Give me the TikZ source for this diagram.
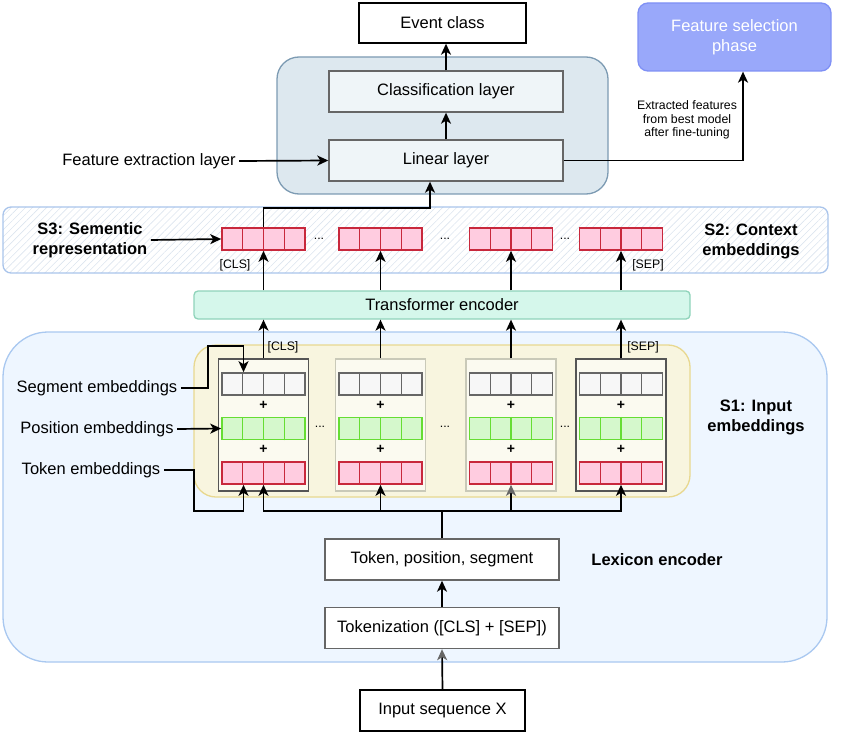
\documentclass[tikz,border=0pt]{standalone}
\usepackage{fontspec}
\setmainfont{Liberation Sans}
\usetikzlibrary{positioning, arrows.meta, patterns.meta}

\definecolor{s1fill}{HTML}{EEF6FF}
\definecolor{s1draw}{HTML}{A9C8F0}
\definecolor{yelfill}{HTML}{F8F5DF}
\definecolor{yeldraw}{HTML}{E8D890}
\definecolor{banddraw}{HTML}{A9C4EB}
\definecolor{hatch}{HTML}{DCE4EE}
\definecolor{outfill}{HTML}{DDE8EF}
\definecolor{outdraw}{HTML}{7D9BB3}
\definecolor{layerfill}{HTML}{EFF5F8}
\definecolor{boxgray}{HTML}{666666}
\definecolor{selfill}{HTML}{99A8FA}
\definecolor{seldraw}{HTML}{7F90F5}
\definecolor{transfill}{HTML}{D5F7EB}
\definecolor{transdraw}{HTML}{8FD3BA}
\definecolor{pinkfill}{HTML}{FFCCE0}
\definecolor{pinkdraw}{HTML}{C8283C}
\definecolor{greenfill}{HTML}{D5F8CC}
\definecolor{greendraw}{HTML}{66DD33}
\definecolor{segfill}{HTML}{F7F7F7}
\definecolor{segdraw}{HTML}{666666}
\definecolor{stackfill}{HTML}{FBFAF0}
\definecolor{stackdark}{HTML}{555555}
\definecolor{stacklight}{HTML}{C9C9B8}
\definecolor{arrgray}{HTML}{666666}

\tikzset{
  txt/.style={font=\fontsize{16.5}{20}\selectfont},
  small/.style={font=\fontsize{12.3}{13.5}\selectfont},
  headlbl/.style={font=\fontsize{16.5}{20}\selectfont\bfseries, align=center},
  plus/.style={font=\fontsize{14}{14}\selectfont\bfseries, inner sep=0pt},
  box/.style={draw=black, fill=white, line width=1.4pt, inner sep=0pt, txt},
  graybox/.style={box, draw=boxgray, minimum width=234pt, minimum height=41pt},
  layer/.style={box, draw=boxgray, fill=layerfill, minimum width=234pt, minimum height=41pt},
  region/.style={inner sep=0pt, line width=1.3pt},
  vec/.style={minimum width=83pt, minimum height=22pt, inner sep=0pt, line width=1.6pt},
  pinkvec/.style={fill=pinkfill, draw=pinkdraw},
  greenvec/.style={fill=greenfill, draw=greendraw},
  segvec/.style={fill=segfill, draw=segdraw},
  stackbox/.style={minimum width=90pt, minimum height=132pt, fill=stackfill, line width=1.5pt, inner sep=0pt},
  conn/.style={line width=1.7pt},
  arr/.style={conn, -{Stealth[length=11pt, width=10pt, inset=3pt]}},
  garr/.style={conn, -{Stealth[length=11pt, width=10pt, inset=3pt, color=arrgray]}},
}

% one embedding vector of four cells
\newcommand{\embvec}[4]{%
  \node[vec, #4] (#1) at (#2,#3) {};
  \foreach \k in {-1,0,1}
    \draw[#4, line width=1.4pt] ([xshift=\k*20.75pt]#1.south) -- ([xshift=\k*20.75pt]#1.north);
}

\begin{document}
\begin{tikzpicture}[x=1pt, y=-1pt]
\useasboundingbox (0,0) rectangle (850,735);

% regions
\node[region, fill=s1fill, draw=s1draw, rounded corners=45pt, minimum width=824pt, minimum height=330pt] (s1) at (415,497) {};
\node[region, fill=yelfill, draw=yeldraw, rounded corners=22pt, minimum width=496pt, minimum height=152pt] (yel) at (442,421) {};
\node[region, draw=banddraw, pattern={Lines[angle=45, distance=5pt, line width=0.6pt]}, pattern color=hatch, rounded corners=8pt, minimum width=825pt, minimum height=66pt] (band) at (415.5,240) {};
\node[region, fill=outfill, draw=outdraw, rounded corners=22pt, minimum width=331pt, minimum height=137pt] (outer) at (442.5,125.5) {};

% classification part
\node[box, minimum width=167pt, minimum height=40pt] (event) at (442.5,23) {Event class};
\node[layer] (cls) at (446,91.5) {Classification layer};
\node[layer] (lin) at (446,160.5) {Linear layer};
\node[txt] (lfeat) at (149,161) {Feature extraction layer};
\node[region, fill=selfill, draw=seldraw, rounded corners=10pt, minimum width=193pt, minimum height=68pt, txt, text=white, align=center] (fsel) at (734.5,37) {Feature selection\\phase};
\node[small, align=center] (lext) at (687,120) {Extracted features\\from best model\\after fine-tuning};

\draw[arr] (lin.north) -- (cls.south);
\draw[arr] (cls.north) -- (cls.north |- event.south);
\draw[arr] (lfeat.east) -- (lin.west);
\draw[arr] (lin.east) -| ([xshift=8.5pt]fsel.south);

% context embeddings
\node[region, fill=transfill, draw=transdraw, rounded corners=4pt, minimum width=496pt, minimum height=28pt, txt] (trans) at (442,305) {Transformer encoder};
\foreach \n/\x in {a/263.5, b/380.5, c/511, d/621} {
  \embvec{ctx\n}{\x}{239}{pinkvec}
  \draw[arr] (trans.north -| ctx\n) -- (ctx\n.south);
}
\foreach \x [count=\i] in {319, 445, 565}
  \node[small] (ctxdots\i) at (\x,239) {...};
\node[small] (ctxcls) at (235,265) {[CLS]};
\node[small] (ctxsep) at (648,265) {[SEP]};
\node[headlbl] (ls3) at (90,240) {S3: Sementic\\representation};
\node[headlbl] (ls2) at (751,241) {S2: Context\\embeddings};
\draw[arr] (ls3.east) -- (ctxa.west);
\coordinate (bend) at (430,208);
\draw[arr] (ctxa.north) |- (bend) -- (bend |- lin.south);

% input embeddings
\foreach \n/\x/\c in {a/263.5/stackdark, b/380.5/stacklight, c/511/stacklight, d/621/stackdark} {
  \node[stackbox, draw=\c] (st\n) at (\x,425) {};
  \embvec{seg\n}{\x}{384}{segvec}
  \embvec{pos\n}{\x}{428.5}{greenvec}
  \embvec{tok\n}{\x}{473}{pinkvec}
  \node[plus] (plusa\n) at (\x,405) {+};
  \node[plus] (plusb\n) at (\x,449) {+};
  \draw[arr] (st\n.north) -- (st\n.north |- trans.south);
}
\foreach \x [count=\i] in {320, 445, 565}
  \node[small] (stdots\i) at (\x,427) {...};
\node[small] (stcls) at (283,347) {[CLS]};
\node[small] (stsep) at (643,347) {[SEP]};
\node[headlbl] (ls1) at (756,417) {S1: Input\\embeddings};

\node[txt] (lseg) at (97,388) {Segment embeddings};
\node[txt] (lpos) at (97,429) {Position embeddings};
\node[txt] (ltok) at (91,470) {Token embeddings};
\draw[arr] (lseg.east) -| (208,346) -| ([xshift=-20pt]sega.north);
\draw[arr] (lpos.east) -- (posa.west);
\draw[arr] (ltok.east) -| (194,511) -| ([xshift=-20pt]toka.south);

% lexicon encoder
\node[graybox] (tps) at (442,559.5) {Token, position, segment};
\node[graybox] (tokz) at (442,628) {Tokenization ([CLS] + [SEP])};
\node[box, minimum width=165pt, minimum height=41pt] (input) at (442.5,710.5) {Input sequence X};
\node[headlbl] (llex) at (657,560) {Lexicon encoder};
\coordinate (hub) at (442,511);
\draw[conn] (tps.north) -- (hub);
\draw[arr] (hub) -| (toka.south);
\draw[arr] (hub) -| (tokb.south);
\draw[garr] (hub) -| (tokc.south);
\draw[arr] (hub) -| (tokd.south);
\draw[arr] (tokz.north) -- (tps.south);
\draw[garr] (input.north) -- (tokz.south);
\end{tikzpicture}
\end{document}
